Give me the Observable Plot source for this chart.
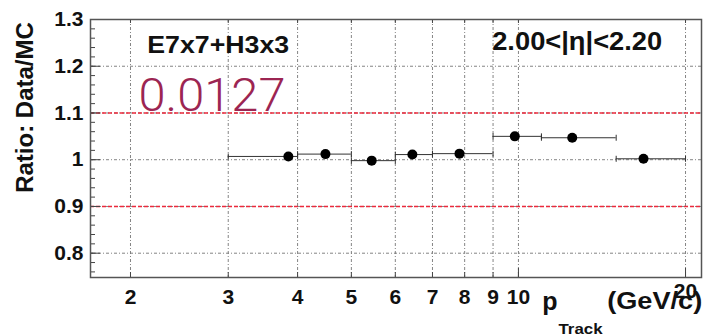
<!DOCTYPE html>
<html>
<head>
<meta charset="utf-8">
<script src="https://cdn.jsdelivr.net/npm/d3@7"></script>
<script src="https://cdn.jsdelivr.net/npm/@observablehq/plot@0.6"></script>
<style>
  html, body { margin: 0; padding: 0; background: white; }
  #chart { width: 703px; height: 334px; overflow: hidden; }
</style>
</head>
<body>
<div id="chart"></div>
<script>
// ---- data ----
const binLow  = [3, 4, 5, 6, 7, 9, 11, 15];
const binHigh = [4, 5, 6, 7, 9, 11, 15, 20];
const binMean = [3.85, 4.49, 5.44, 6.44, 7.83, 9.85, 12.5, 16.8];
const ratio   = [1.007, 1.012, 0.998, 1.011, 1.013, 1.050, 1.047, 1.002];

const yTicks = [0.8, 0.9, 1.0, 1.1, 1.2, 1.3];
const yTickLabels = ["0.8", "0.9", "1", "1.1", "1.2", "1.3"];
const yMinorTicks = [0.76, 0.78, 0.80, 0.82, 0.84, 0.86, 0.88, 0.90, 0.92, 0.94, 0.96, 0.98, 1.00,
                     1.02, 1.04, 1.06, 1.08, 1.10, 1.12, 1.14, 1.16, 1.18, 1.20, 1.22, 1.24, 1.26, 1.28, 1.30];
const xTicks = [2, 3, 4, 5, 6, 7, 8, 9, 10, 20];
const xTickLabels = ["2", "3", "4", "5", "6", "7", "8", "9", "10", "20"];
const xMajorTicks = [10, 20];
const refLines = [0.9, 1.1];

const yTitle = "Ratio: Data/MC";
const xTitleMain = "p";
const xTitleSub = "Track";
const xTitleUnit = "(GeV/c)";
const labelCalo = "E7x7+H3x3";
const labelEta = "2.00<|η|<2.20";
const labelValue = "0.0127";

// ---- build table ----
const rows = binMean.map((m, i) => ({mean: m, lo: binLow[i], hi: binHigh[i], r: ratio[i]}));
const caps = rows.flatMap(d => [{x: d.lo, y: d.r}, {x: d.hi, y: d.r}]);
const yLab = new Map(yTicks.map((t, i) => [t, yTickLabels[i]]));
const xLabRows = xTicks.map((t, i) => ({x: t, label: xTickLabels[i]}));

const W = 703, H = 334, ML = 90, MR = 2, MT = 19, MB = 57;
const FW = W - ML - MR, FH = H - MT - MB;
const font = "'Liberation Sans', Arial, Helvetica, sans-serif";
const capSymbol = {draw(ctx) { ctx.moveTo(0, -3); ctx.lineTo(0, 3); }};
const gridStyle = {stroke: "#777", strokeOpacity: 0.9, strokeWidth: 1, strokeDasharray: "3,2,1,2"};
const tickLabelStyle = {x: "x", text: "label", frameAnchor: "bottom", lineAnchor: "top",
  textAnchor: "middle", fontSize: 21, fontWeight: "bold", fill: "#111"};

const chart = Plot.plot({
  width: W, height: H,
  marginLeft: ML, marginRight: MR, marginTop: MT, marginBottom: MB,
  style: {fontFamily: font, background: "white", overflow: "visible"},
  x: {type: "log", domain: [1.6942, 21.37], axis: null},
  y: {domain: [0.748, 1.3]},
  marks: [
    Plot.gridX(xTicks, gridStyle),
    Plot.gridY(yTicks, gridStyle),
    Plot.ruleY(refLines, {stroke: "#ec2a3c", strokeWidth: 1.6, strokeDasharray: "4,2"}),
    // axis ticks (inward)
    Plot.ruleY(yMinorTicks, {stroke: "#444", insetRight: FW - 5}),
    Plot.ruleY(yTicks, {stroke: "#444", insetRight: FW - 10}),
    Plot.ruleX(xTicks, {stroke: "#444", insetTop: FH - 5}),
    Plot.ruleX(xMajorTicks, {stroke: "#444", insetTop: FH - 9}),
    Plot.ruleX(xTicks, {stroke: "#444", insetBottom: FH - 4}),
    Plot.frame({stroke: "#555", strokeWidth: 1.5}),
    Plot.axisY(yTicks, {tickSize: 0, tickPadding: 7, fontSize: 21, fontWeight: "bold", fill: "#111",
      tickFormat: d => yLab.get(d), label: null}),
    Plot.text(xLabRows.filter(d => d.x < 20), {...tickLabelStyle, dy: 11.5}),
    Plot.text(xLabRows.filter(d => d.x >= 20), {...tickLabelStyle, dy: 6}),
    // error bars
    Plot.ruleY(rows, {y: "r", x1: "lo", x2: "hi", stroke: "#333", strokeWidth: 1}),
    Plot.dot(caps, {x: "x", y: "y", symbol: capSymbol, stroke: "#333", strokeWidth: 1, fill: "none"}),
    Plot.dot(rows, {x: "mean", y: "r", r: 5, fill: "black", stroke: "none"}),
    // annotations
    Plot.text([labelCalo], {frameAnchor: "top-left", dx: 56.7, dy: 17.2, textAnchor: "start", lineAnchor: "top",
      fontSize: 23, fontWeight: "bold", fill: "#111"}),
    Plot.text([labelEta], {frameAnchor: "top-left", dx: 401.7, dy: 12.7, textAnchor: "start", lineAnchor: "top",
      fontSize: 25, fontWeight: "bold", fill: "#111"}),
    Plot.text([labelValue], {frameAnchor: "top-left", dx: 48, dy: 59.3, textAnchor: "start", lineAnchor: "top",
      fontSize: 46, fontWeight: 300, fontFamily: "Roboto, Lato, sans-serif", fill: "#9c2552"}),
    Plot.text([yTitle], {frameAnchor: "top-left", dx: -65, dy: 88, rotate: -90, textAnchor: "middle", lineAnchor: "middle",
      fontSize: 24, fontWeight: "bold", fill: "#111"}),
    Plot.text([xTitleMain], {frameAnchor: "bottom-left", dx: 451.7, dy: 14.7, textAnchor: "start", lineAnchor: "top",
      fontSize: 25, fontWeight: "bold", fill: "#111"}),
    Plot.text([xTitleSub], {frameAnchor: "bottom-left", dx: 468, dy: 47, textAnchor: "start", lineAnchor: "top",
      fontSize: 14, fontWeight: "bold", fill: "#111"}),
    Plot.text([xTitleUnit], {frameAnchor: "bottom-left", dx: 516.7, dy: 14.7, textAnchor: "start", lineAnchor: "top",
      fontSize: 24, fontWeight: "bold", fill: "#111"})
  ]
});
document.getElementById("chart").appendChild(chart);

// stretch a few labels to the widths seen in the reference
const widths = new Map([[labelCalo, 142], [labelEta, 170], [labelValue, 147], [xTitleUnit, 95], [xTitleSub, 44]]);
chart.querySelectorAll("text").forEach(t => {
  const w = widths.get(t.textContent);
  if (w) { t.setAttribute("textLength", w); t.setAttribute("lengthAdjust", "spacingAndGlyphs"); }
});
</script>
</body>
</html>
